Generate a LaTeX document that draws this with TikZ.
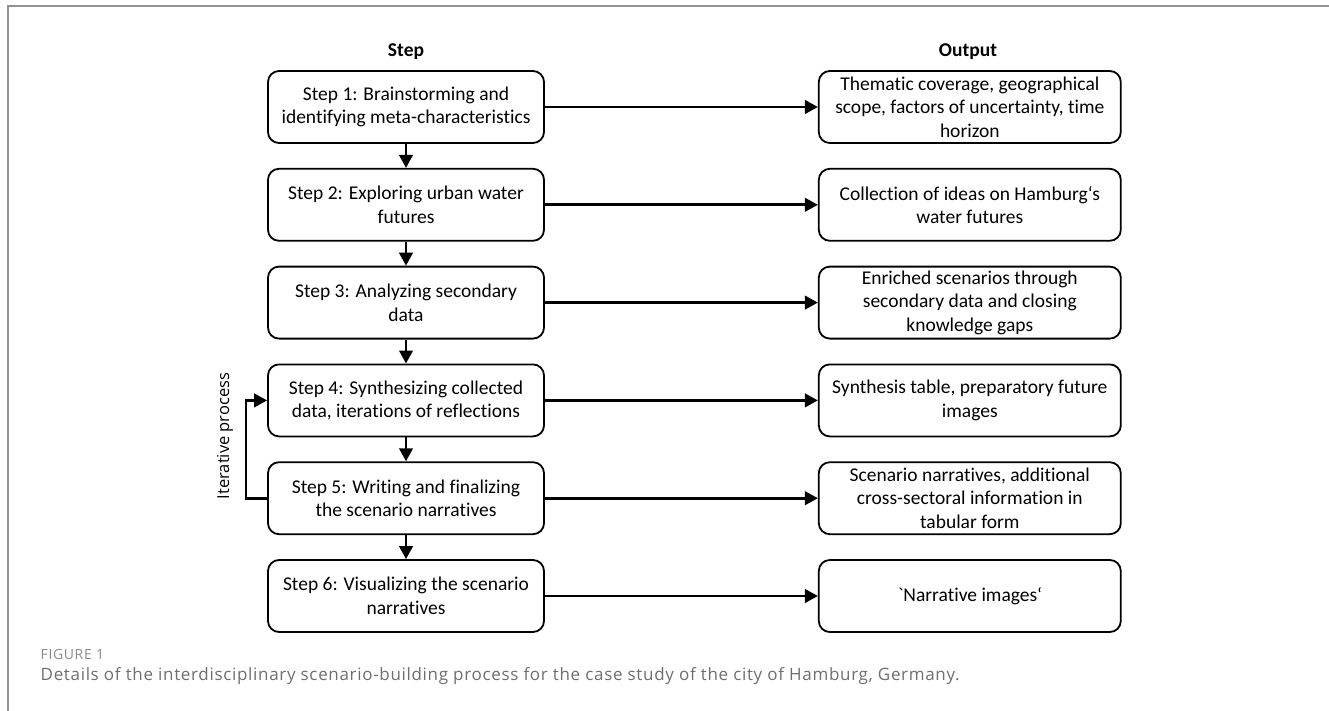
\documentclass[tikz,border=0pt]{standalone}
\usepackage{fontspec}
\usepackage{tikz}
\usetikzlibrary{positioning,arrows.meta}

\newfontfamily\boxfont[Ligatures=CommonOff]{Carlito}
\newfontfamily\capfont{Open Sans}
\newfontfamily\labelfont[LetterSpace=4.5]{Open Sans}
\newfontfamily\captionfont[LetterSpace=4]{Open Sans}
\definecolor{framegray}{HTML}{939393}
\definecolor{labelgray}{HTML}{8A8A8A}
\definecolor{captiongray}{HTML}{6E6E6E}

\tikzset{
	stepbox/.style={draw, rounded corners=11pt, line width=1.8pt, minimum width=276pt, minimum height=72pt, inner sep=0pt, align=center, font=\boxfont\fontsize{19.5}{23.5}\selectfont},
	outbox/.style={stepbox, minimum width=302pt},
	flow/.style={line width=2.6pt, -{Triangle[length=13pt 0 0, width=13.5pt 0 0]}},
	header/.style={font=\boxfont\bfseries\fontsize{19.5}{23.5}\selectfont}
}

\begin{document}
\begin{tikzpicture}[x=1pt, y=-1pt]
						% Fix the page size
						\useasboundingbox (0,0) rectangle (1329,711);
						
						% Draw the frame on top and left
						\draw[framegray, line width=1.8pt] (7.8,711) -- (7.8,5.8) -- (1329,5.8);
						
						% Draw the column headers
						\node[header] (hstep) at (406,52) {Step};
						\node[header] (hout) at (968,52) {Output};
						
						% Draw the step boxes
						\node[stepbox] (s1) at (406,107) {Step 1: Brainstorming and\\identifying meta-characteristics};
						\node[stepbox, below=24pt of s1] (s2) {Step 2: Exploring urban water\\futures};
						\node[stepbox, below=24pt of s2] (s3) {Step 3: Analyzing secondary\\data};
						\node[stepbox, below=24pt of s3] (s4) {Step 4: Synthesizing collected\\data, iterations of reflections};
						\node[stepbox, below=24pt of s4] (s5) {Step 5: Writing and finalizing\\the scenario narratives};
						\node[stepbox, below=24pt of s5] (s6) {Step 6: Visualizing the scenario\\narratives};
						
						% Draw the output boxes
						\node[outbox, right=273pt of s1] (o1) {Thematic coverage, geographical\\scope, factors of uncertainty, time\\horizon};
						\node[outbox, right=273pt of s2] (o2) {Collection of ideas on Hamburg‘s\\water futures};
						\node[outbox, right=273pt of s3] (o3) {Enriched scenarios through\\secondary data and closing\\knowledge gaps};
						\node[outbox, right=273pt of s4] (o4) {Synthesis table, preparatory future\\images};
						\node[outbox, right=273pt of s5] (o5) {Scenario narratives, additional\\cross-sectoral information in\\tabular form};
						\node[outbox, right=273pt of s6] (o6) {`Narrative images‘};
						
						% Draw arrows down the steps
						\foreach \a/\b in {s1/s2,s2/s3,s3/s4,s4/s5,s5/s6}
						\draw[flow] (\a) -- (\b);
						
						% Draw arrows from each step to its output
						\foreach \i in {1,...,6}
						\draw[flow] (s\i) -- (o\i);
						
						% Draw the loop from step 5 back to step 4
						\draw[flow] (s5.west) -- ++(-21pt,0) |- (s4.west);
						\node[rotate=90, font=\capfont\fontsize{16.5}{20}\selectfont] (iter) at (225,436) {Iterative process};
						
						% Draw the caption
						\node[anchor=base west, inner sep=0pt, text=labelgray, font=\labelfont\fontsize{14}{16}\selectfont] (figlabel) at (40.5,659) {FIGURE 1};
						\node[anchor=base west, inner sep=0pt, text=captiongray, font=\captionfont\fontsize{17}{19}\selectfont] (figtext) at (40.5,680) {Details of the interdisciplinary scenario-building process for the case study of the city of Hamburg, Germany.};
						\end{tikzpicture}
\end{document}
